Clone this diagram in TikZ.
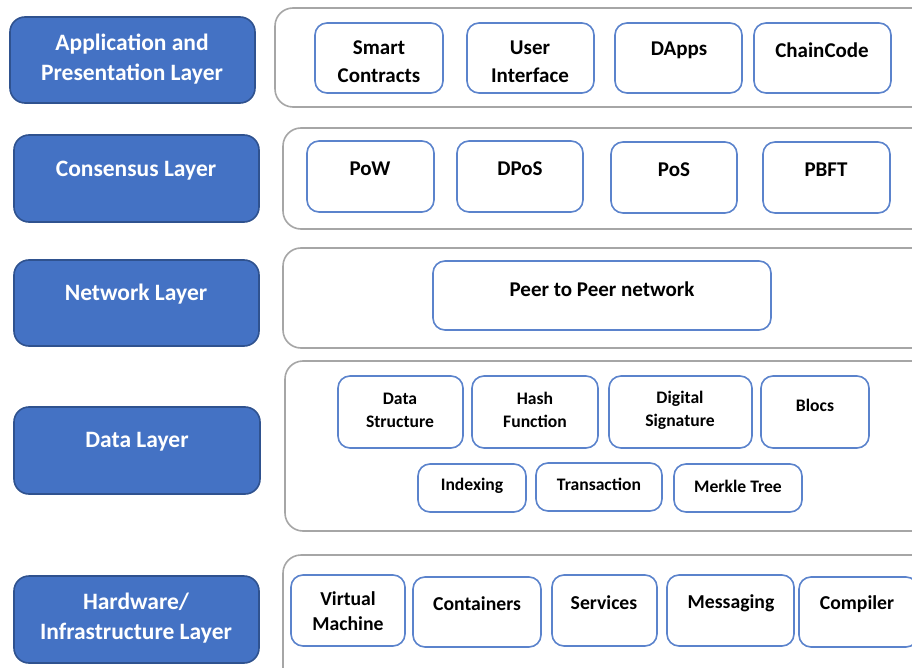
\documentclass[tikz,border=0pt]{standalone}
\usepackage{fontspec}
\setmainfont{Carlito}
\begin{document}
\begin{tikzpicture}[x=1pt,y=-1pt,
  span/.style n args={4}{at={({(#1+#3)/2},{(#2+#4)/2})}, minimum width={#3-#1}, minimum height={#4-#2}},
  layerbox/.style={draw=layerborder,line width=1.6pt,fill=layerblue,rounded corners=15pt,inner sep=0pt},
  layertext/.style={text=white,font=\fontsize{23.5}{30}\selectfont\bfseries,align=center},
  groupbox/.style={draw=groupgray,line width=1.6pt,fill=white,rounded corners=18pt,inner sep=0pt},
  itembox/.style={draw=itemblue,line width=1.6pt,fill=white,rounded corners=12pt,inner sep=0pt},
  itemtext/.style={text=black,font=\fontsize{21}{28}\selectfont\bfseries,align=center},
  hwtext/.style={text=black,font=\fontsize{19.7}{25}\selectfont\bfseries,align=center},
  smalltext/.style={text=black,font=\fontsize{17.6}{23}\selectfont\bfseries,align=center}]
\definecolor{layerblue}{HTML}{4472C4}
\definecolor{layerborder}{HTML}{2F528F}
\definecolor{groupgray}{HTML}{A6A6A6}
\definecolor{itemblue}{HTML}{5B83CC}
\useasboundingbox (0,0) rectangle (912,668);
\fill[white] (0,0) rectangle (912,668);

% ---- layer labels
\node[layerbox, span={10}{17}{255}{103}] (lapp) {};
\node[layertext] (lapp-t) at (132,59) {Application and\\Presentation Layer};
\node[layerbox, span={14}{135}{259}{222}] (lcon) {};
\node[layertext] (lcon-t) at (136,171) {Consensus Layer};
\node[layerbox, span={14}{260}{259}{346}] (lnet) {};
\node[layertext] (lnet-t) at (136,294) {Network Layer};
\node[layerbox, span={14}{407}{260}{494}] (ldat) {};
\node[layertext] (ldat-t) at (137,442) {Data Layer};
\node[layerbox, span={14}{576}{259}{663}] (lhw) {};
\node[layertext] (lhw-t) at (136,618) {Hardware/\\Infrastructure Layer};

% ---- group containers
\node[groupbox, span={275}{8}{930}{107}] (gapp) {};
\node[groupbox, span={283}{128}{930}{229}] (gcon) {};
\node[groupbox, span={283}{248}{930}{348}] (gnet) {};
\node[groupbox, span={285}{361}{930}{531}] (gdat) {};
\node[groupbox, span={283}{555}{930}{700}] (ghw) {};

% ---- application and presentation
\node[itembox, span={315}{23}{443}{93}] (smart) {};
\node[itemtext] (smart-t) at (379,62) {Smart\\Contracts};
\node[itembox, span={467}{23}{594}{93}] (ui) {};
\node[itemtext] (ui-t) at (530,62) {User\\Interface};
\node[itembox, span={615}{23}{742}{93}] (dapps) {};
\node[itemtext] (dapps-t) at (679,50) {DApps};
\node[itembox, span={754}{23}{891}{93}] (chain) {};
\node[itemtext] (chain-t) at (822,50) {ChainCode};

% ---- consensus
\node[itembox, span={307}{141}{434}{212}] (pow) {};
\node[itemtext] (pow-t) at (370,169) {PoW};
\node[itembox, span={457}{141}{583}{212}] (dpos) {};
\node[itemtext] (dpos-t) at (520,169) {DPoS};
\node[itembox, span={611}{142}{737}{213}] (pos) {};
\node[itemtext] (pos-t) at (674,170) {PoS};
\node[itembox, span={763}{142}{890}{213}] (pbft) {};
\node[itemtext] (pbft-t) at (826,170) {PBFT};

% ---- network
\node[itembox, span={433}{261}{771}{330}] (p2p) {};
\node[itemtext] (p2p-t) at (602,289) {Peer to Peer network};

% ---- data
\node[itembox, span={338}{376}{463}{448}] (dstruct) {};
\node[smalltext] (dstruct-t) at (400,410) {Data\\Structure};
\node[itembox, span={472}{376}{598}{448}] (hash) {};
\node[smalltext] (hash-t) at (535,410) {Hash\\Function};
\node[itembox, span={609}{376}{752}{448}] (dsig) {};
\node[smalltext] (dsig-t) at (680,410) {Digital\\Signature};
\node[itembox, span={761}{376}{869}{448}] (blocs) {};
\node[smalltext] (blocs-t) at (815,405) {Blocs};
\node[itembox, span={418}{464}{526}{512}] (idx) {};
\node[smalltext] (idx-t) at (472,486) {Indexing};
\node[itembox, span={536}{463}{662}{511}] (tx) {};
\node[smalltext] (tx-t) at (599,484) {Transaction};
\node[itembox, span={674}{464}{802}{512}] (merkle) {};
\node[smalltext] (merkle-t) at (738,486) {Merkle Tree};

% ---- hardware / infrastructure
\node[itembox, span={291}{575}{405}{646}] (vm) {};
\node[hwtext] (vm-t) at (348,611) {Virtual\\Machine};
\node[itembox, span={413}{577}{541}{647}] (cont) {};
\node[hwtext] (cont-t) at (477,604) {Containers};
\node[itembox, span={552}{575}{657}{646}] (serv) {};
\node[hwtext] (serv-t) at (604,603) {Services};
\node[itembox, span={667}{575}{794}{646}] (msg) {};
\node[hwtext] (msg-t) at (731,603) {Messaging};
\node[itembox, span={799}{577}{918}{647}] (comp) {};
\node[hwtext] (comp-t) at (857,604) {Compiler};
\end{tikzpicture}
\end{document}
